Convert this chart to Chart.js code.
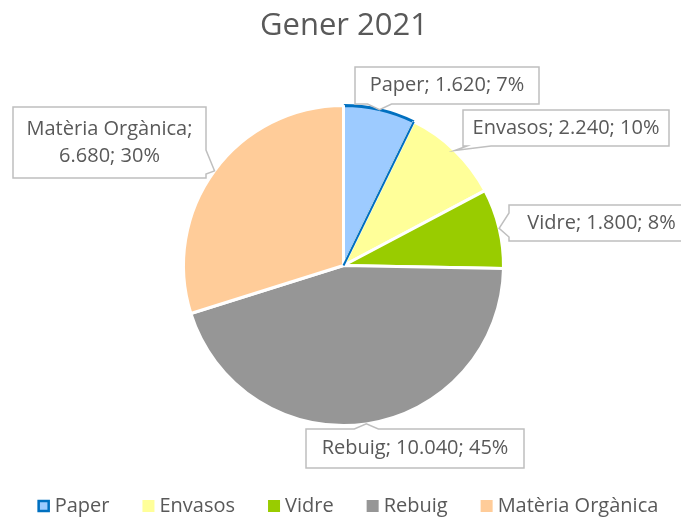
<!DOCTYPE html>
<html>
<head>
<meta charset="utf-8">
<script src="https://cdn.jsdelivr.net/npm/chart.js@4/dist/chart.umd.min.js"></script>
<style>
  html, body { margin: 0; padding: 0; background: #fff; }
  #wrap { width: 681px; height: 518px; }
</style>
</head>
<body>
<div id="wrap"><canvas id="grafic" width="681" height="518"></canvas></div>
<script>
// Dades del gràfic
const titol = 'Gener 2021';
const categories = ['Paper', 'Envasos', 'Vidre', 'Rebuig', 'Matèria Orgànica'];
const tones = [1620, 2240, 1800, 10040, 6680];

// Colors
const colors = ['#9DCBFF', '#FFFF99', '#99CC00', '#969696', '#FFCC99'];
const vores = ['#0070C0', '#FFFFFF', '#FFFFFF', '#FFFFFF', '#FFFFFF'];
const ampleVores = [3, 3, 3, 3, 3];

// Posició de les etiquetes (x, y, amplada, alçada, partir en dues línies)
const caixes = [
    { x: 355, y: 67, w: 184, h: 37, dues: false },
    { x: 463, y: 110, w: 206, h: 36, dues: false },
    { x: 509, y: 205, w: 185, h: 36, dues: false },
    { x: 306, y: 429, w: 218, h: 39, dues: false },
    { x: 13, y: 107, w: 193, h: 71, dues: true }
];

const textColor = '#595959';
const font = '"Open Sans", "Noto Sans", sans-serif';

function formatNum(n) {
    return String(n).replace(/\B(?=(\d{3})+(?!\d))/g, '.');
}

function clamp(v, a, b) { return Math.max(a, Math.min(b, v)); }

// Dibuixa una caixa amb punxa cap a la porció
function caixaAmbPunxa(ctx, b, tip) {
    const x1 = b.x, y1 = b.y, x2 = b.x + b.w, y2 = b.y + b.h;
    let costat = null;
    if (tip.y > y2 + 3) costat = 'baix';
    else if (tip.y < y1 - 2) costat = 'dalt';
    else if (tip.x > x2 + 3) costat = 'dreta';
    else if (tip.x < x1 - 3) costat = 'esquerra';
    const w = 12;
    const pts = [[x1, y1]];
    if (costat === 'dalt') {
        const c = clamp(tip.x, x1 + w + 4, x2 - w - 4);
        pts.push([c - w, y1], [tip.x, tip.y], [c + w, y1]);
    }
    pts.push([x2, y1]);
    if (costat === 'dreta') {
        const c = clamp(tip.y, y1 + w + 4, y2 - w - 4);
        pts.push([x2, c - w], [tip.x, tip.y], [x2, c + w]);
    }
    pts.push([x2, y2]);
    if (costat === 'baix') {
        const c = clamp(tip.x, x1 + w + 4, x2 - w - 4);
        pts.push([c + w, y2], [tip.x, tip.y], [c - w, y2]);
    }
    pts.push([x1, y2]);
    if (costat === 'esquerra') {
        const c = clamp(tip.y, y1 + w + 4, y2 - w - 4);
        pts.push([x1, c + w], [tip.x, tip.y], [x1, c - w]);
    }
    ctx.beginPath();
    ctx.moveTo(pts[0][0], pts[0][1]);
    for (let i = 1; i < pts.length; i++) ctx.lineTo(pts[i][0], pts[i][1]);
    ctx.closePath();
    ctx.fillStyle = '#FFFFFF';
    ctx.fill();
    ctx.strokeStyle = '#BFBFBF';
    ctx.lineWidth = 1.5;
    ctx.stroke();
}

// Plugin: títol, etiquetes amb caixa i llegenda
const extres = {
    id: 'extres',
    beforeDraw(chart) {
        const ctx = chart.ctx;
        ctx.save();
        ctx.fillStyle = '#FFFFFF';
        ctx.fillRect(0, 0, chart.width, chart.height);
        ctx.restore();
    },
    afterDatasetsDraw(chart) {
        // vora blava del costat dret de Paper
        const ctx = chart.ctx;
        const p = chart.getDatasetMeta(0).data[0].getProps(['x', 'y', 'endAngle', 'outerRadius'], true);
        ctx.save();
        ctx.strokeStyle = vores[0];
        ctx.lineWidth = 2;
        ctx.beginPath();
        ctx.moveTo(p.x, p.y);
        ctx.lineTo(p.x + Math.cos(p.endAngle) * p.outerRadius, p.y + Math.sin(p.endAngle) * p.outerRadius);
        ctx.stroke();
        ctx.restore();
    },
    afterDraw(chart) {
        const ctx = chart.ctx;
        const meta = chart.getDatasetMeta(0);
        const total = tones.reduce((a, b) => a + b, 0);
        ctx.save();

        // títol
        ctx.fillStyle = textColor;
        ctx.font = '31px ' + font;
        ctx.textAlign = 'center';
        ctx.textBaseline = 'middle';
        ctx.fillText(titol, 344, 26);

        // etiquetes
        ctx.font = '20px ' + font;
        meta.data.forEach((arc, i) => {
            const p = arc.getProps(['x', 'y', 'startAngle', 'endAngle', 'outerRadius'], true);
            const mig = (p.startAngle + p.endAngle) / 2;
            const tip = { x: p.x + Math.cos(mig) * p.outerRadius, y: p.y + Math.sin(mig) * p.outerRadius };
            const b = caixes[i];
            caixaAmbPunxa(ctx, b, tip);
            const pct = Math.round(tones[i] / total * 100) + '%';
            ctx.fillStyle = textColor;
            const cx = b.x + b.w / 2, cy = b.y + b.h / 2;
            if (b.dues) {
                ctx.fillText(categories[i] + ';', cx, cy - 13);
                ctx.fillText(formatNum(tones[i]) + '; ' + pct, cx, cy + 14);
            } else {
                ctx.fillText(categories[i] + '; ' + formatNum(tones[i]) + '; ' + pct, cx, cy);
            }
        });

        // llegenda
        ctx.font = '20px ' + font;
        ctx.textAlign = 'left';
        const mida = 12, sep = 5, entre = 33;
        const amples = categories.map(c => ctx.measureText(c).width);
        const totalW = amples.reduce((a, w) => a + mida + sep + w, 0) + entre * (categories.length - 1);
        let x = 348 - totalW / 2;
        const y = 506;
        categories.forEach((c, i) => {
            ctx.fillStyle = colors[i];
            ctx.fillRect(x, y - mida / 2, mida, mida);
            if (vores[i] !== '#FFFFFF') {
                ctx.strokeStyle = vores[i];
                ctx.lineWidth = 2.5;
                ctx.strokeRect(x + 1, y - mida / 2 + 1, mida - 2, mida - 2);
            }
            ctx.fillStyle = textColor;
            ctx.fillText(c, x + mida + sep, y);
            x += mida + sep + amples[i] + entre;
        });
        ctx.restore();
    }
};

new Chart(document.getElementById('grafic'), {
    type: 'pie',
    data: {
        labels: categories,
        datasets: [{
            data: tones,
            backgroundColor: colors,
            borderColor: vores,
            borderWidth: ampleVores,
            hoverOffset: 0
        }]
    },
    options: {
        responsive: false,
        animation: false,
        events: [],
        layout: { padding: { top: 104, bottom: 91, left: 6, right: 0 } },
        plugins: {
            legend: { display: false },
            title: { display: false },
            tooltip: { enabled: false }
        }
    },
    plugins: [extres]
});
</script>
</body>
</html>
